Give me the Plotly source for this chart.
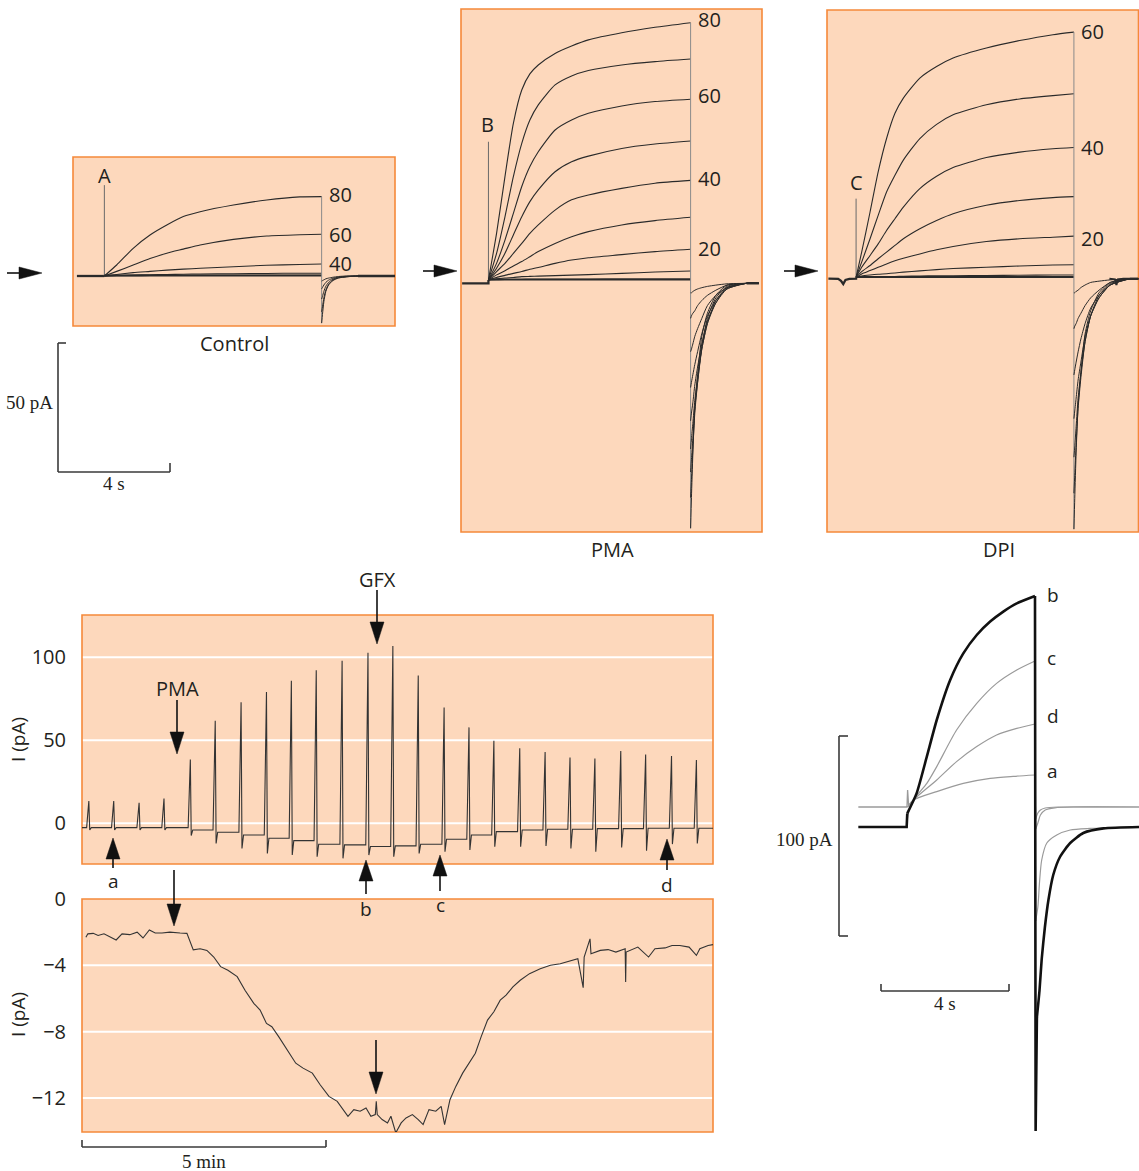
import math
import plotly.graph_objects as go

W, H = 1139, 1171
INK = "#231F20"
TR = "#2a2a2a"
GRAYLINE = "#8a8a8a"
PEACH = "#FDD8BC"
ORANGE = "#F5893A"
SANS = "Open Sans, Noto Sans, sans-serif"
SERIF = "Liberation Serif, DejaVu Serif, serif"

# ====================== DATA ======================
# ---- Control family (s, pA) ----
CTRL_ON, CTRL_OFF, CTRL_END = 1.12, 8.88, 11.6
CTRL_T = [1.12, 1.56, 2.15, 2.75, 3.35, 3.94, 4.54, 5.73, 6.92, 8.10, 8.88]
CTRL_80 = [0, 4.3, 10.8, 16.0, 19.9, 23.2, 25.1, 27.7, 29.7, 30.9, 31.0]
CTRL_60 = [0, 1.8, 4.3, 6.8, 8.9, 10.5, 12.1, 14.3, 15.6, 16.1, 16.3]
CTRL_40 = [0, 0.6, 1.3, 1.8, 2.3, 2.7, 3.0, 3.6, 4.2, 4.5, 4.7]
CTRL_20 = [0, 0.2, 0.4, 0.5, 0.6, 0.7, 0.8, 0.9, 1.0, 1.1, 1.1]
CTRL_0 = [0, 0.1, 0.1, 0.2, 0.2, 0.2, 0.3, 0.3, 0.3, 0.3, 0.3]
CTRL_TT = [0, 0.03, 0.08, 0.15, 0.25, 0.4, 0.6, 0.9, 1.3]
CTRL_TAIL_80 = [-18.4, -15, -10, -6, -3.5, -1.8, -0.8, -0.3, 0]
CTRL_TAIL_60 = [-14, -12, -8.5, -5.5, -3.2, -1.6, -0.7, -0.3, 0]
CTRL_TAIL_40 = [-9, -8, -6, -4, -2.5, -1.3, -0.6, -0.2, 0]
CTRL_TAIL_20 = [-5, -4.5, -3.5, -2.5, -1.6, -0.9, -0.4, -0.1, 0]
CTRL_TAIL_0 = [-2, -1.8, -1.5, -1.1, -0.8, -0.5, -0.2, 0, 0]
CTRL_PRE_T = [0.14, 1.12]
CTRL_PRE_I = [0, 0]
CTRL_POST = 0
CTRL_SPIKE = 35.5

# ---- PMA family ----
PMA_ON, PMA_OFF, PMA_END = 0.98, 8.20, 10.64
PMA_T = [0.98, 1.27, 1.57, 1.87, 2.17, 2.46, 2.76, 3.36, 3.95, 4.55, 5.74, 6.93, 8.20]
PMA_1 = [0, 18.2, 40.4, 61.2, 74.2, 80.5, 84.0, 88.5, 91.4, 93.8, 96.6, 98.7, 100.5]
PMA_2 = [0, 10.4, 24.7, 40.4, 53.4, 62.5, 68.4, 76.2, 79.7, 81.8, 84.0, 85.3, 86.3]
PMA_3 = [0, 6.5, 15.6, 26.0, 36.5, 44.3, 50.1, 58.6, 62.5, 65.1, 68.0, 69.7, 70.6]
PMA_4 = [0, 4.6, 10.4, 17.6, 24.7, 30.6, 35.2, 42.3, 46.2, 48.4, 51.4, 53.1, 54.3]
PMA_5 = [0, 3.3, 6.5, 10.4, 14.3, 18.2, 21.5, 27.3, 31.3, 33.2, 35.8, 37.8, 38.9]
PMA_6 = [0, 2.0, 3.6, 5.5, 7.2, 9.1, 11.1, 14.3, 16.9, 18.9, 21.5, 23.2, 24.5]
PMA_7 = [0, 1.0, 1.8, 2.6, 3.3, 4.2, 4.9, 6.5, 7.8, 8.7, 9.9, 11.1, 12.0]
PMA_8 = [0, 0.5, 0.8, 1.0, 1.3, 1.4, 1.5, 1.7, 1.9, 2.1, 2.6, 3.1, 3.5]
PMA_9 = [0, 0.1, 0.2, 0.2, 0.2, 0.3, 0.3, 0.3, 0.3, 0.3, 0.4, 0.4, 0.4]
PMA_TT = [0, 0.03, 0.08, 0.15, 0.25, 0.4, 0.6, 0.9, 1.3, 2.0]
PMA_TAIL_1 = [-97, -85, -68, -50, -37, -22, -13, -6, -2, -1.3]
PMA_TAIL_2 = [-85, -78, -66, -52, -40, -26, -15, -7, -2.5, -1.3]
PMA_TAIL_3 = [-75, -70, -62, -50, -40, -27, -17, -8, -3, -1.3]
PMA_TAIL_4 = [-66, -62, -56, -47, -38, -27, -17, -9, -3, -1.3]
PMA_TAIL_5 = [-55, -52, -48, -41, -34, -25, -16, -9, -3.5, -1.3]
PMA_TAIL_6 = [-42, -40, -37, -33, -28, -21, -14, -8, -3.5, -1.3]
PMA_TAIL_7 = [-28, -27, -25, -22, -19, -15, -10, -6, -3, -1.3]
PMA_TAIL_8 = [-15, -14, -13, -12, -10, -8, -6, -4, -2, -1.3]
PMA_TAIL_9 = [-5, -5, -4.5, -4, -3.5, -3, -2.5, -2, -1.5, -1.3]
PMA_PRE_T = [0.04, 0.98]
PMA_PRE_I = [-1.3, -1.3]
PMA_POST = -1.3
PMA_SPIKE = 54.0

# ---- DPI family ----
DPI_ON, DPI_OFF, DPI_END = 1.04, 8.83, 11.14
DPI_T = [1.04, 1.24, 1.54, 1.83, 2.13, 2.43, 2.73, 3.32, 3.92, 4.51, 5.70, 6.89, 8.08, 8.83]
DPI_1 = [0, 9.8, 25.4, 41.0, 54.0, 63.8, 69.7, 77.5, 82.0, 85.3, 89.2, 92.1, 94.4, 95.4]
DPI_2 = [0, 5.9, 15.0, 24.1, 33.2, 39.7, 45.6, 54.0, 59.5, 63.2, 67.1, 69.4, 70.7, 71.4]
DPI_3 = [0, 3.9, 8.5, 13.0, 18.2, 22.8, 27.3, 34.5, 39.3, 42.7, 46.6, 48.7, 50.0, 50.5]
DPI_4 = [0, 2.2, 4.6, 7.2, 9.8, 12.4, 15.0, 18.9, 22.1, 24.7, 28.0, 29.9, 31.0, 31.4]
DPI_5 = [0, 1.3, 2.6, 3.9, 5.2, 6.4, 7.4, 9.1, 10.7, 12.0, 13.9, 15.0, 15.6, 16.0]
DPI_6 = [0, 0.5, 0.9, 1.2, 1.4, 1.7, 2.0, 2.5, 3.0, 3.4, 3.9, 4.4, 4.8, 4.9]
DPI_7 = [0, 0.1, 0.2, 0.2, 0.3, 0.3, 0.4, 0.5, 0.6, 0.6, 0.7, 0.8, 0.9, 0.9]
DPI_TT = [0, 0.03, 0.08, 0.15, 0.25, 0.4, 0.6, 0.9, 1.3, 2.0]
DPI_TAIL_1 = [-98, -86, -68, -50, -37, -22, -13, -6, -2, -0.6]
DPI_TAIL_2 = [-84, -77, -65, -51, -39, -25, -15, -7, -2.5, -0.6]
DPI_TAIL_3 = [-70, -66, -58, -47, -37, -25, -15, -8, -3, -0.6]
DPI_TAIL_4 = [-55, -52, -47, -40, -33, -23, -15, -8, -3, -0.6]
DPI_TAIL_5 = [-38, -36, -33, -29, -24, -18, -12, -7, -3, -0.6]
DPI_TAIL_6 = [-20, -19, -18, -16, -14, -11, -8, -5, -2, -0.6]
DPI_TAIL_7 = [-6, -6, -5.5, -5, -4, -3, -2, -1.5, -1, -0.6]
DPI_PRE_T = [0.05, 0.40, 0.50, 0.58, 0.66, 0.80, 1.04]
DPI_PRE_I = [-0.5, -0.6, -1.4, -2.6, -1.0, -0.6, -0.5]
DPI_POST_T = [10.1, 10.3, 10.35, 10.4, 10.6, 11.14]
DPI_POST_I = [-0.6, -0.8, -3.0, -0.8, -0.6, -0.6]
DPI_POST = -0.6
DPI_SPIKE = 30.6

# ---- time course of peak current (min, pA) ----
SPK_T = [0.14, 0.65, 1.17, 1.68, 2.22, 2.73, 3.26, 3.78, 4.29, 4.80, 5.33, 5.86, 6.37,
         6.89, 7.42, 7.93, 8.44, 8.97, 9.49, 10.00, 10.51, 11.04, 11.55, 12.08, 12.59]
SPK_PEAK = [13.4, 13.4, 12.4, 15.0, 38.5, 61.8, 72.9, 79.1, 85.9, 92.2, 97.9, 102.8, 106.8,
            89.1, 69.8, 57.8, 49.7, 45.2, 42.9, 39.7, 39.1, 43.5, 41.5, 40.5, 38.1]
SPK_DIP = [-4.0, -4.0, -4.0, -4.0, -7.4, -12.1, -15.1, -18.1, -19.1, -20.1, -21.1, -19.1, -20.1,
           -18.1, -17.1, -16.1, -14.1, -14.1, -13.7, -15.1, -17.1, -14.5, -16.5, -12.5, -12.1]
SPK_BASE = [-2.6, -2.6, -2.6, -2.6, -2.6, -4.0, -5.4, -7.0, -9.0, -10.4, -12.6, -13.0, -14.0,
            -13.6, -12.6, -9.6, -7.0, -5.0, -4.0, -3.6, -3.6, -3.2, -3.2, -3.0, -3.0]
SPK_TICKS = [0, 50, 100]

# ---- holding current (min, pA) ----
HOLD_T = [0.08, 0.12, 0.23, 0.33, 0.45, 0.57, 0.70, 0.82, 0.98, 1.13, 1.25, 1.38, 1.50, 1.64,
          1.80, 2.01, 2.15, 2.28, 2.42, 2.56, 2.70, 2.84, 2.99, 3.18, 3.34, 3.52, 3.65, 3.78,
          3.89, 4.03, 4.20, 4.38, 4.53, 4.72, 4.88, 5.06, 5.23, 5.35, 5.45, 5.57, 5.70, 5.82,
          5.92, 6.01, 6.03, 6.05, 6.15, 6.26, 6.33, 6.43, 6.54, 6.64, 6.77, 6.89, 6.99, 7.11,
          7.25, 7.36, 7.43, 7.54, 7.66, 7.80, 7.93, 8.06, 8.18, 8.31, 8.44, 8.57, 8.69, 8.83,
          8.98, 9.17, 9.39, 9.60, 9.80, 10.03, 10.16, 10.27, 10.29, 10.41, 10.43, 10.62, 10.78,
          10.94, 11.13, 11.14, 11.15, 11.39, 11.61, 11.74, 11.95, 12.09, 12.25, 12.44, 12.59,
          12.66, 12.83, 12.93]
HOLD_I = [-2.31, -2.10, -2.07, -2.20, -2.10, -2.30, -2.47, -2.10, -2.15, -2.00, -2.35, -1.87,
          -2.05, -2.05, -2.00, -2.05, -2.07, -3.07, -3.00, -3.10, -3.50, -4.08, -4.30, -4.68,
          -5.50, -6.29, -6.70, -7.50, -7.70, -8.30, -9.10, -9.90, -10.20, -10.50, -11.20,
          -11.90, -12.20, -12.70, -13.10, -12.70, -12.80, -12.60, -13.10, -13.00, -12.20,
          -13.00, -13.30, -13.50, -13.10, -14.10, -13.50, -13.20, -13.00, -13.30, -13.60,
          -12.70, -12.80, -12.50, -13.60, -12.10, -11.30, -10.50, -9.90, -9.30, -8.30, -7.30,
          -6.80, -6.10, -5.80, -5.30, -4.90, -4.50, -4.20, -4.00, -3.90, -3.70, -3.60, -5.35,
          -3.50, -2.40, -3.30, -3.10, -3.05, -3.20, -3.00, -5.00, -3.20, -2.90, -3.50, -3.00,
          -2.95, -2.80, -2.80, -2.90, -3.40, -3.00, -2.80, -2.75]
HOLD_TICKS = [0, -4, -8, -12]
HOLD_TICKTEXT = ["0", "\u22124", "\u22128", "\u221212"]

# ---- overlay of sweeps a-d (s, pA) ----
B_PRE_T = [2.76, 4.27, 4.29]
B_PRE_I = [0, 0, 6.8]
B_T = [4.29, 4.58, 4.90, 5.21, 5.63, 6.04, 6.46, 6.88, 7.29, 7.71, 8.28]
B_I = [6.8, 16.8, 35.2, 53.5, 73.5, 86.8, 96.0, 102.7, 107.7, 111.8, 115.5]
B_DROP_T = [8.28, 8.30, 8.34]
B_DROP_I = [115.5, -152, -95]
B_TAIL_T = [8.34, 8.42, 8.49, 8.59, 8.70, 8.85, 9.06, 9.38, 9.79, 10.42, 11.53]
B_TAIL_I = [-95, -82, -66, -50, -36.5, -24, -15, -8, -3, -0.7, 0]
C_T = [4.27, 4.32, 4.48, 4.90, 5.21, 5.83, 6.46, 7.08, 7.71, 8.28]
C_I = [0, 6.8, 13.5, 21.8, 30.2, 48.5, 61.8, 71.8, 78.5, 83.0]
C_TAIL_T = [8.30, 8.37, 8.42, 8.49, 8.65, 8.96, 9.38, 10.0, 11.53]
C_TAIL_I = [-47, -40, -28, -16.5, -8, -4, -1.5, -0.7, 0]
D_T = [4.30, 4.48, 5.21, 5.83, 6.46, 7.08, 7.71, 8.28]
D_I = [10, 13.5, 23.5, 32.7, 40.2, 46.0, 49.3, 51.5]
D_TAIL_T = [8.30, 8.37, 8.45, 8.60, 8.90, 9.50, 11.53]
D_TAIL_I = [-1, 2, 6, 8.5, 9.6, 10, 10]
A_T = [4.30, 4.48, 5.21, 6.04, 6.88, 7.60, 8.28]
A_I = [10, 13.5, 17.7, 21.8, 24.3, 25.3, 26.0]
A_TAIL_T = [8.30, 8.37, 8.45, 8.60, 9.00, 11.53]
A_TAIL_I = [4, 7, 8.5, 9.5, 10, 10]
AD_PRE_T = [2.76, 4.28, 4.30, 4.33]
AD_PRE_I = [10, 10, 18.5, 11]

# ====================== HELPERS ======================
def X(px):
    return px / W

def Y(py):
    return 1 - py / H

def dom_x(a, b):
    return [a / W, b / W]

def dom_y(top, bottom):
    return [1 - bottom / H, 1 - top / H]

traces = []

def sc(ax, x, y, color=TR, width=1.1, shape="linear", smoothing=0.7):
    xa, ya = ax
    line = dict(color=color, width=width, shape=shape)
    if shape == "spline":
        line["smoothing"] = smoothing
    traces.append(go.Scatter(x=x, y=y, xaxis=xa, yaxis=ya, mode="lines", line=line,
                             hoverinfo="skip", showlegend=False, connectgaps=False))

def join(xlists, ylists):
    xs, ys = [], []
    for xl, yl in zip(xlists, ylists):
        xs += list(xl) + [None]
        ys += list(yl) + [None]
    return xs, ys

def family(ax, t_on, t_off, t_end, rise_t, rises, tail_t, tails, pre_t, pre_i, post, spike):
    sc(ax, pre_t + [t_on], pre_i + [0], width=2.3)
    sc(ax, [t_on, t_on], [0, spike], color="#6a6a6a", width=1)
    xs, ys = join([rise_t] * len(rises), rises)
    sc(ax, xs, ys, width=1.1, shape="spline", smoothing=0.6)
    sc(ax, [t_on, t_off], [0.15, 0.15], width=2.0)
    sc(ax, [t_off, t_off], [max(r[-1] for r in rises), min(t[0] for t in tails)],
       color=GRAYLINE, width=1)
    tx = [t_off + d for d in tail_t] + [t_end]
    xs, ys = join([tx] * len(tails), [t + [post] for t in tails])
    sc(ax, xs, ys, width=1.0, shape="spline", smoothing=0.6)
    sc(ax, [t_off + tail_t[-1], t_end], [post, post], width=2.3)

# ====================== TRACES ======================
family(("x", "y"), CTRL_ON, CTRL_OFF, CTRL_END, CTRL_T,
       [CTRL_80, CTRL_60, CTRL_40, CTRL_20, CTRL_0], CTRL_TT,
       [CTRL_TAIL_80, CTRL_TAIL_60, CTRL_TAIL_40, CTRL_TAIL_20, CTRL_TAIL_0],
       CTRL_PRE_T, CTRL_PRE_I, CTRL_POST, CTRL_SPIKE)

family(("x2", "y2"), PMA_ON, PMA_OFF, PMA_END, PMA_T,
       [PMA_1, PMA_2, PMA_3, PMA_4, PMA_5, PMA_6, PMA_7, PMA_8, PMA_9], PMA_TT,
       [PMA_TAIL_1, PMA_TAIL_2, PMA_TAIL_3, PMA_TAIL_4, PMA_TAIL_5, PMA_TAIL_6,
        PMA_TAIL_7, PMA_TAIL_8, PMA_TAIL_9],
       PMA_PRE_T, PMA_PRE_I, PMA_POST, PMA_SPIKE)

family(("x3", "y3"), DPI_ON, DPI_OFF, DPI_END, DPI_T,
       [DPI_1, DPI_2, DPI_3, DPI_4, DPI_5, DPI_6, DPI_7], DPI_TT,
       [DPI_TAIL_1, DPI_TAIL_2, DPI_TAIL_3, DPI_TAIL_4, DPI_TAIL_5, DPI_TAIL_6, DPI_TAIL_7],
       DPI_PRE_T, DPI_PRE_I, DPI_POST, DPI_SPIKE)
sc(("x3", "y3"), DPI_POST_T, DPI_POST_I, width=2.0)

sx, sy = [0.0], [SPK_BASE[0]]
n = len(SPK_T)
for i, t in enumerate(SPK_T):
    nb = SPK_BASE[i + 1] if i + 1 < n else SPK_BASE[-1]
    sx += [t - 0.045, t, t + 0.018, t + 0.05]
    sy += [SPK_BASE[i], SPK_PEAK[i], SPK_DIP[i], nb]
sx.append(12.93)
sy.append(SPK_BASE[-1])
sc(("x4", "y4"), sx, sy, color="#333333", width=1.1)

sc(("x5", "y5"), HOLD_T, HOLD_I, color="#333333", width=1.1)

G = "#9a9a9a"
sc(("x6", "y6"), AD_PRE_T, AD_PRE_I, color=G, width=1.3)
sc(("x6", "y6"), A_T, A_I, color=G, width=1.2, shape="spline")
sc(("x6", "y6"), D_T, D_I, color=G, width=1.2, shape="spline")
sc(("x6", "y6"), C_T, C_I, color=G, width=1.2, shape="spline")
sc(("x6", "y6"), [A_T[-1], A_TAIL_T[0]], [A_I[-1], A_TAIL_I[0]], color=G, width=1.2)
sc(("x6", "y6"), [D_T[-1], D_TAIL_T[0]], [D_I[-1], D_TAIL_I[0]], color=G, width=1.2)
sc(("x6", "y6"), [C_T[-1], C_TAIL_T[0]], [C_I[-1], C_TAIL_I[0]], color=G, width=1.2)
sc(("x6", "y6"), A_TAIL_T, A_TAIL_I, color=G, width=1.2, shape="spline")
sc(("x6", "y6"), D_TAIL_T, D_TAIL_I, color=G, width=1.2, shape="spline")
sc(("x6", "y6"), C_TAIL_T, C_TAIL_I, color=G, width=1.2, shape="spline")
sc(("x6", "y6"), B_PRE_T, B_PRE_I, color="#111111", width=2.6)
sc(("x6", "y6"), B_T, B_I, color="#111111", width=2.6, shape="spline", smoothing=0.6)
sc(("x6", "y6"), B_DROP_T, B_DROP_I, color="#111111", width=2.6)
sc(("x6", "y6"), B_TAIL_T, B_TAIL_I, color="#111111", width=2.6, shape="spline", smoothing=0.6)

fig = go.Figure(traces)

# ====================== AXES ======================
hidden = dict(visible=False, fixedrange=True)
yfont = dict(family=SANS, size=20, color=INK)
fig.update_layout(
    width=W, height=H, autosize=False,
    margin=dict(l=0, r=0, t=0, b=0, pad=0, autoexpand=False),
    paper_bgcolor="white", plot_bgcolor="rgba(0,0,0,0)", showlegend=False,
    hovermode=False,
    xaxis=dict(domain=dom_x(73, 395), range=[0, 11.5], **hidden),
    yaxis=dict(domain=dom_y(157, 326), range=[-19.53, 46.48], **hidden),
    xaxis2=dict(domain=dom_x(461, 762), range=[0, 10.75], **hidden),
    yaxis2=dict(domain=dom_y(9, 532), range=[-98.44, 105.86], **hidden),
    xaxis3=dict(domain=dom_x(827, 1138.5), range=[0, 11.14], **hidden),
    yaxis3=dict(domain=dom_y(10, 532), range=[-99.1, 104.0], **hidden),
    xaxis4=dict(domain=dom_x(82, 713), range=[0, 12.93], **hidden),
    yaxis4=dict(domain=dom_y(615, 864), range=[-24.5, 125.5], showgrid=False,
                zeroline=False, showline=False, ticks="", tickvals=SPK_TICKS,
                ticktext=[str(v) for v in SPK_TICKS], ticklabelstandoff=6,
                automargin=False, tickfont=yfont, fixedrange=True),
    xaxis5=dict(domain=dom_x(82, 713), range=[0, 12.93], **hidden),
    yaxis5=dict(domain=dom_y(899, 1132), range=[-14.05, 0], showgrid=False,
                zeroline=False, showline=False, ticks="", tickvals=HOLD_TICKS,
                ticktext=HOLD_TICKTEXT, ticklabelstandoff=6,
                automargin=False, tickfont=yfont, fixedrange=True),
    xaxis6=dict(domain=dom_x(770, 1139), range=[0, 11.53], **hidden),
    yaxis6=dict(domain=dom_y(580, 1171), range=[-172, 123.5], **hidden),
)

# ====================== SHAPES ======================
shapes = []

def panel(xa, ya):
    shapes.append(dict(type="rect", xref=f"{xa} domain", yref=f"{ya} domain",
                       x0=0, x1=1, y0=0, y1=1, fillcolor=PEACH, line=dict(width=0),
                       layer="below"))

def border(xa, ya):
    shapes.append(dict(type="rect", xref=f"{xa} domain", yref=f"{ya} domain",
                       x0=0, x1=1, y0=0, y1=1, fillcolor="rgba(0,0,0,0)",
                       line=dict(color=ORANGE, width=1.6), layer="below"))

def hgrid(xa, ya, v):
    shapes.append(dict(type="line", xref=f"{xa} domain", yref=ya, x0=0, x1=1, y0=v, y1=v,
                       line=dict(color="white", width=2), layer="below"))

for xa, ya in [("x", "y"), ("x2", "y2"), ("x3", "y3"), ("x4", "y4"), ("x5", "y5")]:
    panel(xa, ya)
for v in SPK_TICKS:
    hgrid("x4", "y4", v)
for v in HOLD_TICKS[1:]:
    hgrid("x5", "y5", v)
for xa, ya in [("x", "y"), ("x2", "y2"), ("x3", "y3"), ("x4", "y4"), ("x5", "y5")]:
    border(xa, ya)

def pline(x0, y0, x1, y1, color="#3a3a3a", width=1.6):
    shapes.append(dict(type="line", xref="paper", yref="paper", x0=X(x0), y0=Y(y0),
                       x1=X(x1), y1=Y(y1), line=dict(color=color, width=width)))

def arrow(x0, y0, x1, y1, hl=21, hw=6.5, lw=1.6):
    dx, dy = x1 - x0, y1 - y0
    L = math.hypot(dx, dy)
    ux, uy = dx / L, dy / L
    bx, by = x1 - ux * (hl - 2), y1 - uy * (hl - 2)
    pline(x0, y0, bx, by, color="#111111", width=lw)
    bx, by = x1 - ux * hl, y1 - uy * hl
    nx, ny = -uy, ux
    path = (f"M{X(x1)},{Y(y1)} L{X(bx + nx * hw)},{Y(by + ny * hw)} "
            f"L{X(bx - nx * hw)},{Y(by - ny * hw)} Z")
    shapes.append(dict(type="path", xref="paper", yref="paper", path=path,
                       fillcolor="#111111", line=dict(color="#111111", width=0.5)))

arrow(7, 273, 42, 273, hl=23, hw=6)
arrow(423, 271, 457, 271, hl=23, hw=6)
arrow(784, 271, 818, 271, hl=23, hw=6)
arrow(177, 700, 177, 754, hl=22, hw=7)
arrow(377, 590, 377, 644, hl=22, hw=7)
arrow(113, 868, 113, 838, hl=21, hw=7)
arrow(366, 894, 366, 860, hl=21, hw=7)
arrow(440, 891, 440, 855, hl=21, hw=7)
arrow(667, 870, 667, 839, hl=21, hw=7)
arrow(174, 870, 174, 926, hl=22, hw=7)
arrow(376, 1040, 376, 1094, hl=22, hw=7)

pline(58, 343, 58, 472)
pline(58, 343, 66, 343)
pline(58, 472, 170, 472)
pline(170, 463, 170, 472)
pline(82, 1147, 326, 1147)
pline(82, 1140, 82, 1147)
pline(326, 1140, 326, 1147)
pline(839, 736, 839, 936)
pline(839, 736, 848, 736)
pline(839, 936, 848, 936)
pline(881, 991, 1009, 991)
pline(881, 984, 881, 991)
pline(1009, 984, 1009, 991)

fig.update_layout(shapes=shapes)

# ====================== TEXT ======================
ann = []

def txt(s, x, y, size=20, family=SANS, xanchor="center", angle=0):
    ann.append(dict(text=s, x=X(x), y=Y(y), xref="paper", yref="paper", showarrow=False,
                    xanchor=xanchor, yanchor="middle", textangle=angle,
                    font=dict(family=family, size=size, color=INK)))

txt("A", 104, 175)
txt("B", 487, 125)
txt("C", 856, 183)
for s, yy in [("80", 195), ("60", 234), ("40", 263)]:
    txt(s, 327, yy, xanchor="left")
for s, yy in [("80", 20), ("60", 96), ("40", 178), ("20", 248)]:
    txt(s, 696, yy, xanchor="left")
for s, yy in [("60", 32), ("40", 147), ("20", 238)]:
    txt(s, 1079, yy, xanchor="left")
txt("Control", 234, 343)
txt("PMA", 612, 549)
txt("DPI", 999, 549)
txt("50 pA", 29, 402, size=19, family=SERIF)
txt("4 s", 114, 484, size=19, family=SERIF)
txt("5 min", 204, 1161, size=19, family=SERIF)
txt("100 pA", 804, 839, size=19, family=SERIF)
txt("4 s", 945, 1003, size=19, family=SERIF)
txt("PMA", 177, 689)
txt("GFX", 377, 579)
txt("I (pA)", 18, 740, size=19, angle=-90)
txt("I (pA)", 18, 1015, size=19, angle=-90)
txt("a", 113, 881, size=19)
txt("b", 366, 909, size=19)
txt("c", 440, 905, size=19)
txt("d", 667, 885, size=19)
for s, yy in [("b", 595), ("c", 658), ("d", 716), ("a", 771)]:
    txt(s, 1045, yy, size=19, xanchor="left")

fig.update_layout(annotations=ann)
fig.write_html("out.html", config={"displayModeBar": False, "staticPlot": True},
               post_script="document.body.style.margin='0px';")
